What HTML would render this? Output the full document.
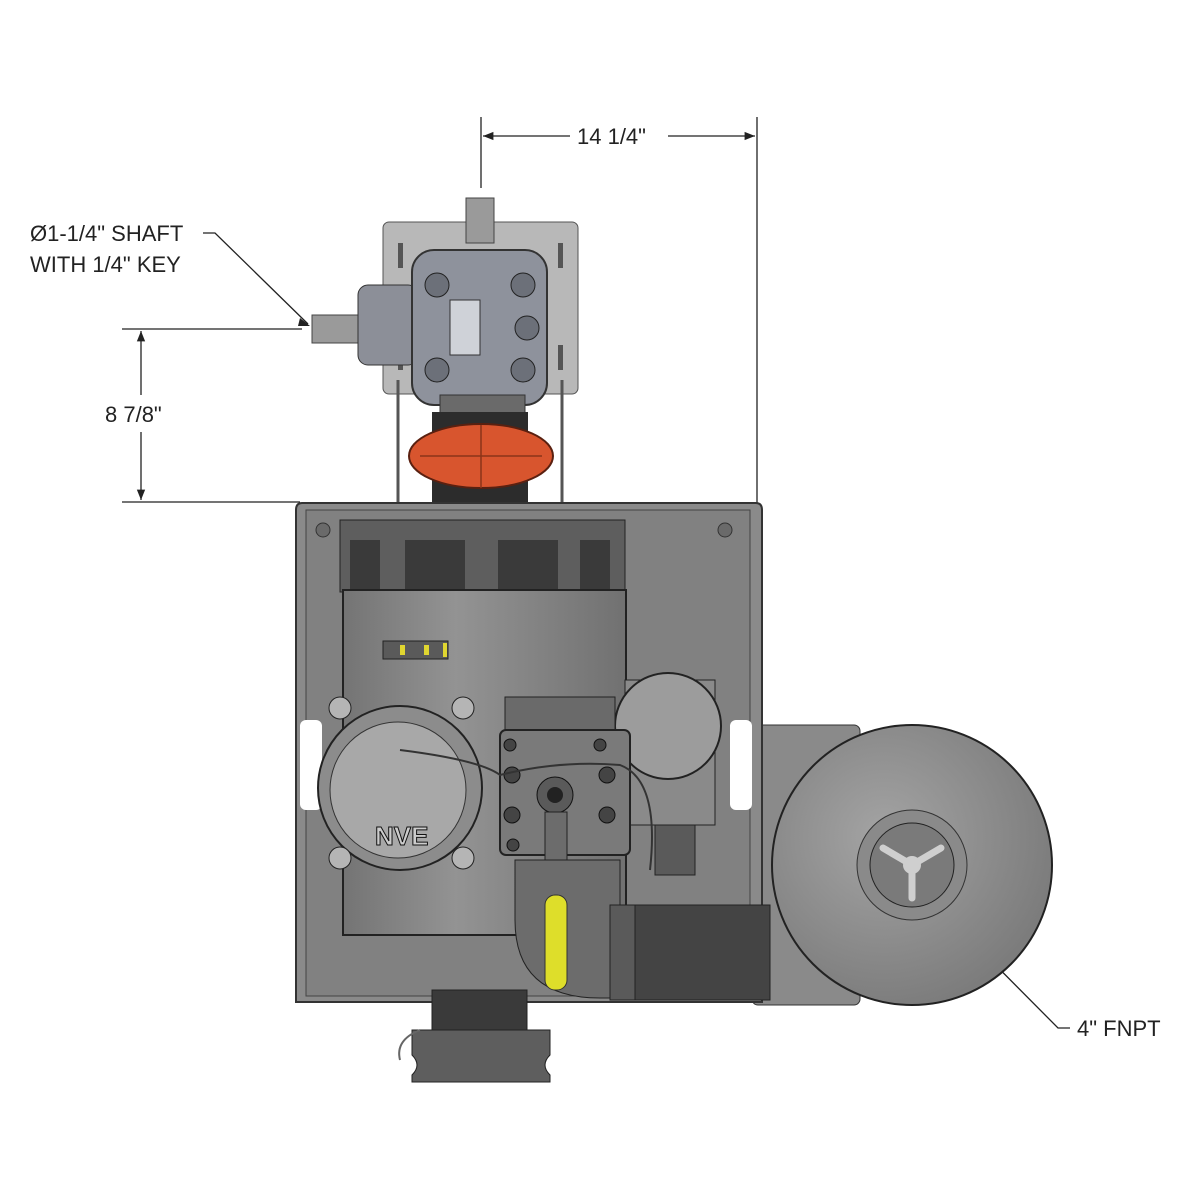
<!DOCTYPE html>
<html><head><style>
html,body{margin:0;padding:0;background:#fff;}
svg{display:block;}
text{font-family:"Liberation Sans",sans-serif;font-size:22px;fill:#222;}
</style></head><body>
<svg width="1200" height="1200" viewBox="0 0 1200 1200" xmlns="http://www.w3.org/2000/svg">
<defs>
<marker id="ar" viewBox="0 0 10 10" refX="10" refY="5" markerWidth="10" markerHeight="8" orient="auto-start-reverse"><path d="M0,1 L10,5 L0,9 z" fill="#222"/></marker>
<radialGradient id="blw" cx="0.4" cy="0.4" r="0.7"><stop offset="0" stop-color="#a4a4a4"/><stop offset="1" stop-color="#777"/></radialGradient>
<linearGradient id="mot" x1="0" x2="1"><stop offset="0" stop-color="#747474"/><stop offset="0.4" stop-color="#939393"/><stop offset="1" stop-color="#717171"/></linearGradient>
</defs>
<g stroke="#222" stroke-width="1.3" fill="none">
<line x1="481" y1="117" x2="481" y2="188"/>
<line x1="757" y1="117" x2="757" y2="505"/>
<line x1="483" y1="136" x2="570" y2="136" marker-start="url(#ar)"/>
<line x1="668" y1="136" x2="755" y2="136" marker-end="url(#ar)"/>
<line x1="122" y1="329" x2="302" y2="329"/>
<line x1="122" y1="502" x2="300" y2="502"/>
<line x1="141" y1="331" x2="141" y2="395" marker-start="url(#ar)"/>
<line x1="141" y1="432" x2="141" y2="500" marker-end="url(#ar)"/>
<polyline points="203,233 215,233 308,324"/>
<polyline points="1070,1028 1058,1028 937,906"/>
</g>
<path d="M300,318 L310,326 L298,326 z" fill="#222"/>
<text x="577" y="144">14 1/4"</text>
<text x="105" y="422">8 7/8"</text>
<text x="30" y="241">Ø1-1/4" SHAFT</text>
<text x="30" y="272">WITH 1/4" KEY</text>
<text x="1077" y="1036">4" FNPT</text>

<rect x="383" y="222" width="195" height="172" rx="6" fill="#b8b8b8" stroke="#555"/>
<rect x="398" y="243" width="5" height="25" fill="#555"/><rect x="558" y="243" width="5" height="25" fill="#555"/>
<rect x="398" y="345" width="5" height="25" fill="#555"/><rect x="558" y="345" width="5" height="25" fill="#555"/>
<rect x="466" y="198" width="28" height="45" fill="#9a9a9a" stroke="#444"/>
<rect x="312" y="315" width="50" height="28" fill="#9a9a9a" stroke="#444"/>
<rect x="358" y="285" width="60" height="80" rx="10" fill="#8c8f98" stroke="#333"/>
<rect x="412" y="250" width="135" height="155" rx="22" fill="#8e929c" stroke="#333" stroke-width="2"/>
<g fill="#6c7079" stroke="#222">
<circle cx="437" cy="285" r="12"/><circle cx="523" cy="285" r="12"/><circle cx="437" cy="370" r="12"/><circle cx="523" cy="370" r="12"/><circle cx="527" cy="328" r="12"/>
</g>
<rect x="450" y="300" width="30" height="55" fill="#cfd2d8" stroke="#333"/>
<rect x="440" y="395" width="85" height="20" fill="#6a6a6a" stroke="#333"/>
<g stroke="#555" stroke-width="3"><line x1="398" y1="380" x2="398" y2="525"/><line x1="562" y1="380" x2="562" y2="525"/></g>
<rect x="432" y="412" width="96" height="20" fill="#2c2c2c"/>
<rect x="432" y="480" width="96" height="22" fill="#2c2c2c"/>
<ellipse cx="481" cy="456" rx="72" ry="32" fill="#d8552e" stroke="#5a2010" stroke-width="2"/>
<g stroke="#8a3418" stroke-width="1.5"><line x1="420" y1="456" x2="542" y2="456"/><line x1="481" y1="425" x2="481" y2="488"/></g>
<rect x="440" y="503" width="82" height="22" fill="#9a9a9a" stroke="#333"/>

<rect x="752" y="725" width="108" height="280" rx="6" fill="#8a8a8a" stroke="#333"/>
<path d="M302,503 L756,503 Q762,503 762,510 L762,1002 L296,1002 L296,510 Q296,503 302,503 z" fill="#8a8a8a" stroke="#333" stroke-width="2"/>
<rect x="306" y="510" width="444" height="486" fill="#818181" stroke="#444"/>
<circle cx="323" cy="530" r="7" fill="#6a6a6a" stroke="#333"/><circle cx="725" cy="530" r="7" fill="#6a6a6a" stroke="#333"/>
<rect x="300" y="720" width="22" height="90" rx="6" fill="#fff"/><rect x="730" y="720" width="22" height="90" rx="6" fill="#fff"/>
<rect x="340" y="520" width="285" height="72" fill="#5e5e5e" stroke="#222"/>
<g fill="#3a3a3a"><rect x="350" y="540" width="30" height="50"/><rect x="405" y="540" width="60" height="50"/><rect x="498" y="540" width="60" height="50"/><rect x="580" y="540" width="30" height="50"/></g>
<rect x="343" y="590" width="283" height="345" fill="url(#mot)" stroke="#222" stroke-width="2"/>
<rect x="383" y="641" width="65" height="18" fill="#5a5a5a" stroke="#222"/>
<rect x="400" y="645" width="5" height="10" fill="#e0d630"/><rect x="424" y="645" width="5" height="10" fill="#e0d630"/><rect x="443" y="643" width="4" height="14" fill="#e0d630"/>
<rect x="625" y="680" width="90" height="145" fill="#8a8a8a" stroke="#222"/>
<rect x="655" y="825" width="40" height="50" fill="#5a5a5a" stroke="#222"/>
<circle cx="668" cy="726" r="53" fill="#9c9c9c" stroke="#222" stroke-width="2"/>
<rect x="505" y="697" width="110" height="45" fill="#6a6a6a" stroke="#222"/>
<rect x="500" y="730" width="130" height="125" rx="6" fill="#7a7a7a" stroke="#222" stroke-width="2"/>
<g fill="#444" stroke="#111"><circle cx="510" cy="745" r="6"/><circle cx="600" cy="745" r="6"/><circle cx="512" cy="775" r="8"/><circle cx="607" cy="775" r="8"/><circle cx="512" cy="815" r="8"/><circle cx="607" cy="815" r="8"/><circle cx="513" cy="845" r="6"/></g>
<circle cx="555" cy="795" r="18" fill="#5a5a5a" stroke="#111"/><circle cx="555" cy="795" r="8" fill="#222"/>
<rect x="545" y="812" width="22" height="140" fill="#6c6c6c" stroke="#222"/>
<path d="M515,860 L515,920 Q515,998 600,998 L620,998 L620,860 z" fill="#6c6c6c" stroke="#222"/>
<rect x="610" y="905" width="160" height="95" fill="#444" stroke="#222"/>
<rect x="610" y="905" width="25" height="95" fill="#5a5a5a" stroke="#222"/>
<rect x="545" y="895" width="22" height="95" rx="10" fill="#dede2a" stroke="#333"/>
<circle cx="400" cy="788" r="82" fill="#8c8c8c" stroke="#222" stroke-width="2"/>
<circle cx="398" cy="790" r="68" fill="#a8a8a8" stroke="#333"/>
<g fill="#b5b5b5" stroke="#222"><circle cx="340" cy="708" r="11"/><circle cx="463" cy="708" r="11"/><circle cx="340" cy="858" r="11"/><circle cx="463" cy="858" r="11"/></g>
<text x="375" y="845" style="font-size:26px;font-weight:bold;fill:#ccc;stroke:#111;stroke-width:1">NVE</text>
<path d="M400,750 Q480,760 500,775 Q560,760 620,765 Q660,780 650,870" fill="none" stroke="#333" stroke-width="2"/>
<rect x="432" y="990" width="95" height="40" fill="#3a3a3a" stroke="#222"/>
<path d="M412,1030 L550,1030 L550,1055 Q540,1065 550,1075 L550,1082 L412,1082 L412,1075 Q422,1065 412,1055 z" fill="#5e5e5e" stroke="#222"/>
<path d="M420,1030 Q395,1040 400,1060" fill="none" stroke="#666" stroke-width="2"/>
<ellipse cx="912" cy="865" rx="140" ry="140" fill="url(#blw)" stroke="#222" stroke-width="2"/>
<circle cx="912" cy="865" r="55" fill="#8a8a8a" stroke="#333"/>
<circle cx="912" cy="865" r="42" fill="#7a7a7a" stroke="#222"/>
<g stroke="#cfcfcf" stroke-width="7" stroke-linecap="round"><line x1="912" y1="865" x2="912" y2="898"/><line x1="912" y1="865" x2="883" y2="848"/><line x1="912" y1="865" x2="941" y2="848"/></g>
<circle cx="912" cy="865" r="9" fill="#cfcfcf"/>
</svg>
</body></html>
